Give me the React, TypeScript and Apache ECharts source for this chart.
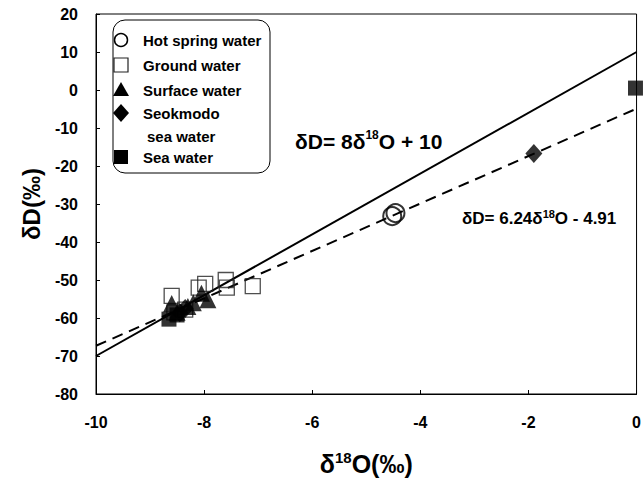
import React, { useEffect, useRef } from "react";
import * as echarts from "echarts";

// δ18O, δD pairs
const hotSpringWater = [[-4.52, -33.2], [-4.46, -32.4]];
const groundWater = [
  [-8.6, -54.2], [-8.1, -52.0], [-7.98, -51.0], [-7.6, -50.0],
  [-7.58, -52.0], [-7.1, -51.6], [-8.35, -57.8], [-8.55, -58.5],
];
const surfaceWater = [
  [-8.6, -56.2], [-8.5, -58.5], [-7.93, -55.2], [-8.05, -53.5], [-8.3, -57.0], [-8.2, -56.0],
];
const seokmodoSeaWater = [[-1.9, -16.7], [-8.35, -57.5], [-8.45, -58.6]];
const seaWater = [[-0.02, 0.5], [-8.65, -60.3], [-8.5, -59.2]];

// regression lines (slope, intercept)
const gmwl = [8, 10];
const lmwl = [6.24, -4.91];
const xExtent = [-10, 0];
const yExtent = [-80, 20];

const legendNames = ["Hot spring water", "Ground water", "Surface water", "Seokmodo", "sea water", "Sea water"];

const FONT = "'Liberation Sans', Arial, Helvetica, sans-serif";

function lineData(coef: number[]) {
  return xExtent.map((x) => [x, coef[0] * x + coef[1]]);
}

export default function App() {
  const ref = useRef<HTMLDivElement>(null);
  useEffect(() => {
    if (!ref.current) return;
    const chart = echarts.init(ref.current, undefined, { renderer: "svg" });
    const axisLabel = { color: "#000", fontFamily: FONT, fontWeight: "bold" as const, fontSize: 16 };
    const legendX = 121;
    const textX = 143;
    const rowsY = [40, 65, 90, 113, 136, 157];
    const legendText = (i: number, x: number) => ({
      type: "text",
      x,
      y: rowsY[i],
      z: 20,
      style: {
        text: legendNames[i],
        fill: "#000",
        fontSize: 15,
        fontWeight: "bold",
        fontFamily: FONT,
        verticalAlign: "middle",
      },
    });
    chart.setOption({
      animation: false,
      backgroundColor: "#fff",
      grid: { left: 96, right: 7, top: 14, bottom: 101, show: true, borderColor: "#000", borderWidth: 1 },
      xAxis: {
        type: "value",
        min: xExtent[0],
        max: xExtent[1],
        interval: 2,
        splitLine: { show: false },
        axisLine: { onZero: false, lineStyle: { color: "#000", width: 1 } },
        axisTick: { inside: true, length: 4, lineStyle: { color: "#000" } },
        axisLabel: { ...axisLabel, margin: 20 },
        name: "δ{sup|18}O(‰)",
        nameLocation: "middle",
        nameGap: 56,
        nameTextStyle: {
          color: "#000",
          fontFamily: FONT,
          fontWeight: "bold",
          fontSize: 25,
          lineHeight: 28,
          rich: { sup: { fontSize: 15, fontWeight: "bold", fontFamily: FONT, color: "#000", verticalAlign: "top", lineHeight: 15 } },
        },
      },
      yAxis: {
        type: "value",
        min: yExtent[0],
        max: yExtent[1],
        interval: 10,
        splitLine: { show: false },
        axisLine: { show: true, onZero: false, lineStyle: { color: "#000", width: 1 } },
        axisTick: { show: true, inside: true, length: 4, lineStyle: { color: "#000" } },
        axisLabel: { ...axisLabel, margin: 18 },
        name: "δD(‰)",
        nameLocation: "middle",
        nameRotate: 90,
        nameGap: 48,
        nameTextStyle: { color: "#000", fontFamily: FONT, fontWeight: "bold", fontSize: 24 },
      },
      series: [
        {
          name: "GMWL",
          type: "line",
          data: lineData(gmwl),
          symbol: "none",
          lineStyle: { color: "#000", width: 2 },
          z: 1,
        },
        {
          name: "LMWL",
          type: "line",
          data: lineData(lmwl),
          symbol: "none",
          lineStyle: { color: "#000", width: 2, type: [11, 7] },
          z: 1,
        },
        {
          name: "Ground water",
          type: "scatter",
          data: groundWater,
          symbol: "rect",
          symbolSize: 15,
          itemStyle: { color: "rgba(255,255,255,0)", borderColor: "#222", borderWidth: 1.3 },
          z: 2,
        },
        {
          name: "Hot spring water",
          type: "scatter",
          data: hotSpringWater,
          symbol: "circle",
          symbolSize: 18,
          itemStyle: { color: "rgba(255,255,255,0)", borderColor: "#000", borderWidth: 2 },
          z: 3,
        },
        {
          name: "Surface water",
          type: "scatter",
          data: surfaceWater,
          symbol: "triangle",
          symbolSize: 17,
          itemStyle: { color: "#000" },
          z: 3,
        },
        {
          name: "Seokmodo sea water",
          type: "scatter",
          data: seokmodoSeaWater,
          symbol: "diamond",
          symbolSize: [17, 19],
          itemStyle: { color: "#000" },
          z: 3,
        },
        {
          name: "Sea water",
          type: "scatter",
          data: seaWater,
          symbol: "rect",
          symbolSize: 15,
          itemStyle: { color: "#000" },
          z: 3,
        },
      ],
      graphic: [
        {
          type: "rect",
          z: 10,
          shape: { x: 113, y: 20, width: 157, height: 153, r: 12 },
          style: { fill: "#fff", stroke: "#000", lineWidth: 1 },
        },
        { type: "circle", z: 20, shape: { cx: legendX, cy: rowsY[0], r: 6.5 }, style: { fill: "#fff", stroke: "#000", lineWidth: 1.5 } },
        { type: "rect", z: 20, shape: { x: legendX - 7, y: rowsY[1] - 7, width: 14, height: 14 }, style: { fill: "#fff", stroke: "#222", lineWidth: 1.2 } },
        { type: "polygon", z: 20, shape: { points: [[legendX, rowsY[2] - 8], [legendX + 8, rowsY[2] + 6], [legendX - 8, rowsY[2] + 6]] }, style: { fill: "#000" } },
        { type: "polygon", z: 20, shape: { points: [[legendX, rowsY[3] - 9], [legendX + 8, rowsY[3]], [legendX, rowsY[3] + 9], [legendX - 8, rowsY[3]]] }, style: { fill: "#000" } },
        { type: "rect", z: 20, shape: { x: legendX - 7, y: rowsY[5] - 7, width: 14, height: 14 }, style: { fill: "#000" } },
        legendText(0, textX),
        legendText(1, textX),
        legendText(2, textX),
        legendText(3, textX),
        legendText(4, textX + 4),
        legendText(5, textX),
        {
          type: "text",
          x: 295,
          y: 141,
          z: 20,
          style: {
            text: "δD= 8δ{sup|18}O + 10",
            fill: "#000",
            fontSize: 21,
            fontWeight: "bold",
            fontFamily: FONT,
            lineHeight: 24,
            verticalAlign: "middle",
            rich: { sup: { fontSize: 12, fontWeight: "bold", fontFamily: FONT, verticalAlign: "top", lineHeight: 12 } },
          },
        },
        {
          type: "text",
          x: 462,
          y: 218,
          z: 20,
          style: {
            text: "δD= 6.24δ{sup|18}O - 4.91",
            fill: "#000",
            fontSize: 17,
            fontWeight: "bold",
            fontFamily: FONT,
            lineHeight: 20,
            verticalAlign: "middle",
            rich: { sup: { fontSize: 11, fontWeight: "bold", fontFamily: FONT, verticalAlign: "top", lineHeight: 11 } },
          },
        },
      ],
    });
    return () => chart.dispose();
  }, []);
  return <div ref={ref} style={{ width: 644, height: 495, position: "absolute", left: 0, top: 0 }} />;
}
